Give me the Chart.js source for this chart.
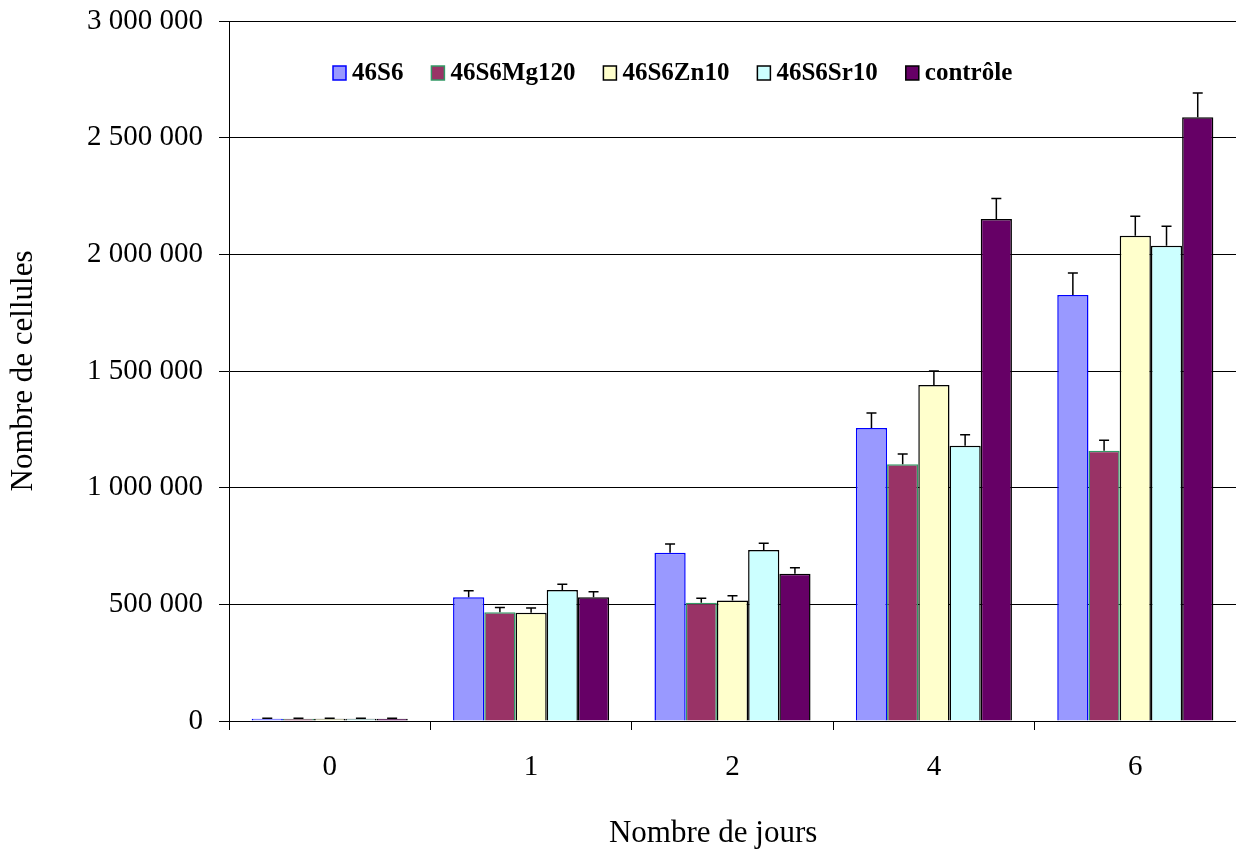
<!DOCTYPE html>
<html>
<head>
<meta charset="utf-8">
<script src="https://cdn.jsdelivr.net/npm/chart.js@4.4.1/dist/chart.umd.min.js"></script>
<style>
  html, body { margin: 0; padding: 0; background: #fff; }
  #wrap { width: 1236px; height: 852px; position: relative; }
</style>
</head>
<body>
<div id="wrap"><canvas id="myChart"></canvas></div>
<script>
const days = ["0", "1", "2", "4", "6"];

const s46S6 = [10000, 530000, 721000, 1256000, 1826000];
const s46S6Mg120 = [10000, 466000, 507000, 1100000, 1158000];
const s46S6Zn10 = [10000, 464000, 516000, 1440000, 2080000];
const s46S6Sr10 = [10000, 561000, 733000, 1180000, 2037000];
const sControle = [10000, 530000, 631000, 2151000, 2587000];

const e46S6 = [1500, 28000, 38000, 64000, 94000];
const e46S6Mg120 = [1500, 20000, 19000, 44000, 45000];
const e46S6Zn10 = [1500, 20000, 21000, 60000, 83000];
const e46S6Sr10 = [1500, 25000, 29000, 47000, 83000];
const eControle = [1500, 24000, 26000, 88000, 104000];

const yTicks = [0, 500000, 1000000, 1500000, 2000000, 2500000, 3000000];

const SERIF = "'Liberation Serif', 'Times New Roman', serif";

function fmt(v) {
  return String(v).replace(/\B(?=(\d{3})+(?!\d))/g, " ");
}

const series = [
  { label: "46S6", data: s46S6, err: e46S6, bg: "#9999FF", border: "#0000FF" },
  { label: "46S6Mg120", data: s46S6Mg120, err: e46S6Mg120, bg: "#993366", border: "#339966" },
  { label: "46S6Zn10", data: s46S6Zn10, err: e46S6Zn10, bg: "#FFFFCC", border: "#000000" },
  { label: "46S6Sr10", data: s46S6Sr10, err: e46S6Sr10, bg: "#CCFFFF", border: "#000000" },
  { label: "contrôle", data: sControle, err: eControle, bg: "#660066", border: "#000000" },
];

// error bars, drawn on top of the bars
const errorBars = {
  id: "errorBars",
  afterDatasetsDraw(chart) {
    const ctx = chart.ctx;
    const y = chart.scales.y;
    ctx.save();
    ctx.strokeStyle = "#000";
    ctx.lineWidth = 1.5;
    chart.data.datasets.forEach((ds, i) => {
      const meta = chart.getDatasetMeta(i);
      meta.data.forEach((bar, j) => {
        const top = y.getPixelForValue(ds.data[j] + ds.err[j]);
        ctx.beginPath();
        ctx.moveTo(bar.x, bar.y);
        ctx.lineTo(bar.x, top);
        ctx.moveTo(bar.x - 5, top);
        ctx.lineTo(bar.x + 5, top);
        ctx.stroke();
      });
    });
    ctx.restore();
  },
};

// legend inside the plot area, like the original
const innerLegend = {
  id: "innerLegend",
  afterDraw(chart) {
    const ctx = chart.ctx;
    ctx.save();
    ctx.font = "bold 25px " + SERIF;
    ctx.textBaseline = "middle";
    let x = 333;
    const cy = 73;
    chart.data.datasets.forEach((ds) => {
      ctx.fillStyle = ds.backgroundColor;
      ctx.fillRect(x, cy - 7, 13, 14);
      ctx.strokeStyle = ds.borderColor;
      ctx.lineWidth = 1.5;
      ctx.strokeRect(x, cy - 7, 13, 14);
      ctx.fillStyle = "#000";
      ctx.fillText(ds.label, x + 19, cy + 1);
      x += 19 + ctx.measureText(ds.label).width + 28;
    });
    ctx.restore();
  },
};

const ctx = document.getElementById("myChart").getContext("2d");
const myChart = new Chart(ctx, {
  type: "bar",
  data: {
    labels: days,
    datasets: series.map((s) => ({
      label: s.label,
      data: s.data,
      err: s.err,
      backgroundColor: s.bg,
      borderColor: s.border,
      borderWidth: 1.5,
      categoryPercentage: 0.775,
      barPercentage: 1,
    })),
  },
  plugins: [errorBars, innerLegend],
  options: {
    responsive: true,
    maintainAspectRatio: false,
    animation: false,
    layout: { padding: { top: 21, right: 0, left: 0, bottom: 0 } },
    plugins: {
      legend: { display: false },
      tooltip: { enabled: false },
    },
    scales: {
      x: {
        afterFit: (s) => { s.height = 131; s.paddingLeft = 0; s.paddingRight = 0; },
        grid: { drawOnChartArea: false, drawTicks: true, tickLength: 9, color: "#000", offset: true },
        border: { color: "#000", width: 1 },
        ticks: { color: "#000", padding: 20, font: { family: SERIF, size: 29 } },
        title: {
          display: true,
          text: "Nombre de jours\u00a0\u00a0\u00a0\u00a0\u00a0",
          color: "#000",
          font: { family: SERIF, size: 31 },
          padding: { top: 0, bottom: 0 },
        },
      },
      y: {
        min: 0,
        max: 3000000,
        afterFit: (s) => { s.width = 229; s.paddingTop = 0; s.paddingBottom = 0; },
        afterBuildTicks: (s) => { s.ticks = yTicks.map((v) => ({ value: v })); },
        grid: { color: "#000", lineWidth: 1, tickLength: 10 },
        border: { color: "#000", width: 1 },
        ticks: {
          color: "#000",
          padding: 16,
          font: { family: SERIF, size: 29 },
          callback: (v) => fmt(v),
        },
        title: {
          display: true,
          text: "Nombre de cellules",
          color: "#000",
          font: { family: SERIF, size: 31 },
          padding: { top: 5, bottom: 0 },
        },
      },
    },
  },
});
</script>
</body>
</html>
